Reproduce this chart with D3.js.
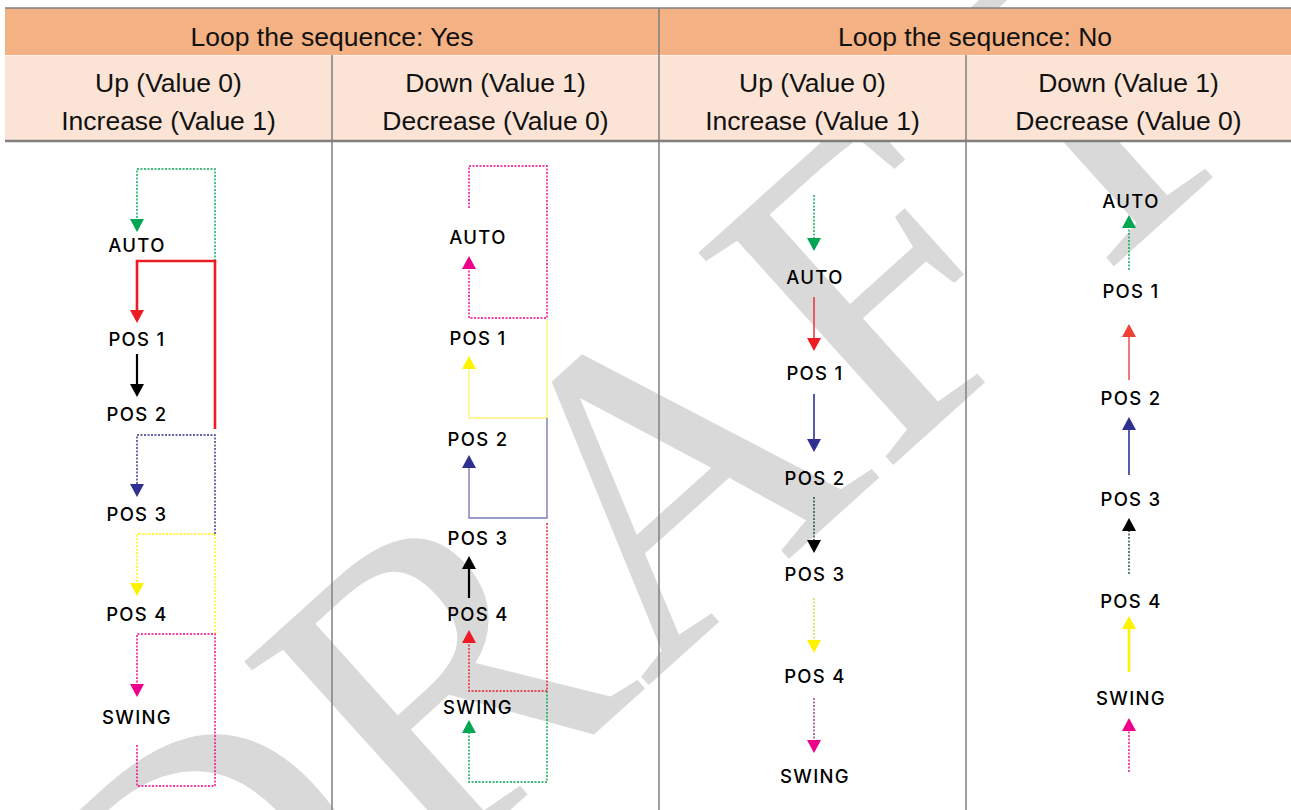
<!DOCTYPE html>
<html>
<head>
<meta charset="utf-8">
<script src="https://cdn.jsdelivr.net/npm/d3@7"></script>
<style>
  body { margin: 0; background: #fff; }
  svg { display: block; }
</style>
</head>
<body>
<svg id="chart" width="1291" height="810"></svg>
<script>
// ---- data ----
var groupHeaders = ["Loop the sequence: Yes", "Loop the sequence: No"];
var subHeaders = [
    ["Up (Value 0)", "Increase (Value 1)"],
    ["Down (Value 1)", "Decrease (Value 0)"],
    ["Up (Value 0)", "Increase (Value 1)"],
    ["Down (Value 1)", "Decrease (Value 0)"]
];
var states = ["AUTO", "POS 1", "POS 2", "POS 3", "POS 4", "SWING"];

// label rows per column (body units, 0 = top of the body area)
var labelRows = [
    [104, 198, 273, 373, 473, 576],
    [96, 197, 298, 397, 473, 566],
    [136, 232, 337, 433, 535, 635],
    [60, 150, 257, 358, 460, 557]
];

// connectors: column, colour, line style, head colour, route ("a" = arrow lane, "r" = return rail)
var connectors = [
    // loop yes / up
    { col: 0, color: "#00a651", dash: true, w: 1.4, pts: [["r", 120], ["r", 28], ["a", 28], ["a", 91]] },
    { col: 0, color: "#ed1c24", dash: false, w: 2.6, pts: [["r", 288], ["r", 120], ["a", 120], ["a", 182]] },
    { col: 0, color: "#000000", dash: false, w: 2.2, pts: [["a", 213], ["a", 256]] },
    { col: 0, color: "#2e3192", dash: true, w: 1.4, pts: [["r", 393], ["r", 294], ["a", 294], ["a", 356]] },
    { col: 0, color: "#fff200", dash: true, w: 1.4, pts: [["r", 493], ["r", 393], ["a", 393], ["a", 455]] },
    { col: 0, color: "#ec008c", dash: true, w: 1.4, pts: [["a", 604], ["a", 645], ["r", 645], ["r", 493], ["a", 493], ["a", 556]] },
    // loop yes / down
    { col: 1, color: "#ec008c", dash: true, w: 1.4, pts: [["a", 67], ["a", 25], ["r", 25], ["r", 177], ["a", 177], ["a", 115]] },
    { col: 1, color: "#fff200", line: "#fff37a", dash: false, w: 1.4, pts: [["r", 178], ["r", 277], ["a", 277], ["a", 215]] },
    { col: 1, color: "#2e3192", line: "#7a7ac0", dash: false, w: 1.4, pts: [["r", 277], ["r", 377], ["a", 377], ["a", 314]] },
    { col: 1, color: "#000000", dash: false, w: 2.2, pts: [["a", 457], ["a", 415]] },
    { col: 1, color: "#ed1c24", dash: true, w: 1.4, pts: [["r", 382], ["r", 550], ["a", 550], ["a", 489]] },
    { col: 1, color: "#00a651", dash: true, w: 1.4, pts: [["r", 550], ["r", 641], ["a", 641], ["a", 579]] },
    // loop no / up
    { col: 2, color: "#00a651", dash: true, w: 1.4, pts: [["a", 54], ["a", 110]] },
    { col: 2, color: "#ed1c24", line: "#ee3a3f", dash: false, w: 1.6, pts: [["a", 156], ["a", 210]] },
    { col: 2, color: "#2e3192", dash: false, w: 1.6, pts: [["a", 253], ["a", 311]] },
    { col: 2, color: "#000000", line: "#1d4a30", dash: true, w: 1.4, pts: [["a", 356], ["a", 412]] },
    { col: 2, color: "#fff200", line: "#c9da3a", dash: true, w: 1.4, pts: [["a", 457], ["a", 512]] },
    { col: 2, color: "#ec008c", line: "#8a3a78", dash: true, w: 1.4, pts: [["a", 557], ["a", 612]] },
    // loop no / down
    { col: 3, color: "#00a651", dash: true, w: 1.4, pts: [["a", 129], ["a", 74]] },
    { col: 3, color: "#ef4136", line: "#f0555a", dash: false, w: 1.6, pts: [["a", 239], ["a", 183]] },
    { col: 3, color: "#2e3192", dash: false, w: 1.6, pts: [["a", 334], ["a", 276]] },
    { col: 3, color: "#000000", line: "#1d4a30", dash: true, w: 1.4, pts: [["a", 433], ["a", 377]] },
    { col: 3, color: "#fff200", dash: false, w: 2.6, pts: [["a", 531], ["a", 475]] },
    { col: 3, color: "#ec008c", dash: true, w: 1.4, pts: [["a", 631], ["a", 577]] }
];

// ---- layout ----
var width = 1291, height = 810;
var table = { left: 5, top: 8, row1: 55, row2: 141 };
var colEdges = [5, 332, 659, 966, 1291];
var lanes = [
    { a: 137, r: 215, label: 137 },
    { a: 469, r: 547, label: 478 },
    { a: 814, r: 814, label: 815 },
    { a: 1129, r: 1129, label: 1131 }
];

var svg = d3.select("#chart");
var y = d3.scaleLinear().domain([0, height - table.row2]).range([table.row2, height]);

// watermark behind everything
svg.append("text")
    .attr("transform", "translate(628,504) rotate(-42)")
    .attr("text-anchor", "middle")
    .attr("dominant-baseline", "central")
    .attr("font-family", "'Liberation Serif', 'Times New Roman', serif")
    .attr("font-size", 440)
    .attr("fill", "#d9d9d9")
    .text("DRAFT");

// header band
svg.append("rect")
    .attr("x", table.left).attr("y", table.top)
    .attr("width", width - table.left).attr("height", table.row1 - table.top)
    .attr("fill", "#f4b183");
svg.append("rect")
    .attr("x", table.left).attr("y", table.row1)
    .attr("width", width - table.left).attr("height", table.row2 - table.row1)
    .attr("fill", "#fbe4d5");
svg.append("line")
    .attr("x1", table.left).attr("x2", width)
    .attr("y1", table.row1 + 0.5).attr("y2", table.row1 + 0.5)
    .attr("stroke", "#fff").attr("stroke-width", 1).attr("opacity", 0.6);

var grid = svg.append("g").attr("stroke", "#7f7f7f");
grid.append("line")
    .attr("x1", table.left).attr("x2", width)
    .attr("y1", table.top).attr("y2", table.top)
    .attr("stroke-width", 1.5);
grid.append("line")
    .attr("x1", table.left).attr("x2", width)
    .attr("y1", table.row2).attr("y2", table.row2)
    .attr("stroke-width", 2.5);
grid.selectAll(".vline")
    .data(colEdges.slice(1, 4))
    .enter()
    .append("line")
    .attr("class", "vline")
    .attr("x1", (d) => d).attr("x2", (d) => d)
    .attr("y1", (d, i) => i == 1 ? table.top : table.row1)
    .attr("y2", height)
    .attr("stroke-width", 1.5);

var headFont = "'Liberation Sans', Arial, Helvetica, sans-serif";
svg.selectAll(".group-head")
    .data(groupHeaders)
    .enter()
    .append("text")
    .attr("class", "group-head")
    .attr("x", (d, i) => (colEdges[i * 2] + colEdges[i * 2 + 2]) / 2)
    .attr("y", 37)
    .attr("text-anchor", "middle")
    .attr("dominant-baseline", "central")
    .attr("font-family", headFont)
    .attr("font-size", 26.5)
    .attr("fill", "#111")
    .text((d) => d);

var sub = svg.selectAll(".sub-head")
    .data(subHeaders)
    .enter()
    .append("g")
    .attr("class", "sub-head")
    .attr("transform", (d, i) => `translate(${(colEdges[i] + colEdges[i + 1]) / 2},0)`);
sub.selectAll("text")
    .data((d) => d)
    .enter()
    .append("text")
    .attr("y", (d, i) => 83 + i * 38)
    .attr("text-anchor", "middle")
    .attr("dominant-baseline", "central")
    .attr("font-family", headFont)
    .attr("font-size", 26.5)
    .attr("fill", "#111")
    .text((d) => d);

// state labels
labelRows.forEach(function(rows, c) {
    svg.append("g")
        .selectAll("text")
        .data(states)
        .enter()
        .append("text")
        .attr("x", lanes[c].label)
        .attr("y", (d, i) => y(rows[i]))
        .attr("text-anchor", "middle")
        .attr("dominant-baseline", "central")
        .attr("font-family", "Inter, 'Noto Sans', sans-serif")
        .attr("font-weight", 500)
        .attr("font-size", 18.5)
        .attr("letter-spacing", 1.3)
        .attr("fill", "#000")
        .text((d) => d);
});

// connectors with arrow heads at the last point
var lineGen = d3.line();
var headLen = 13, headHalf = 7;
var links = svg.append("g");
connectors.forEach(function(c) {
    var pts = c.pts.map((p) => [lanes[c.col][p[0]], y(p[1])]);
    var tip = pts[pts.length - 1];
    var prev = pts[pts.length - 2];
    var dir = tip[1] > prev[1] ? 1 : -1;
    var linePts = pts.slice(0, -1).concat([[tip[0], tip[1] - dir * headLen]]);
    links.append("path")
        .attr("d", lineGen(linePts))
        .attr("fill", "none")
        .attr("stroke", c.line || c.color)
        .attr("stroke-width", c.w)
        .attr("stroke-dasharray", c.dash ? "2,1.5" : null);
    links.append("path")
        .attr("d", lineGen([
            [tip[0], tip[1]],
            [tip[0] - headHalf, tip[1] - dir * headLen],
            [tip[0] + headHalf, tip[1] - dir * headLen]
        ]) + "Z")
        .attr("fill", c.color);
});
</script>
</body>
</html>
